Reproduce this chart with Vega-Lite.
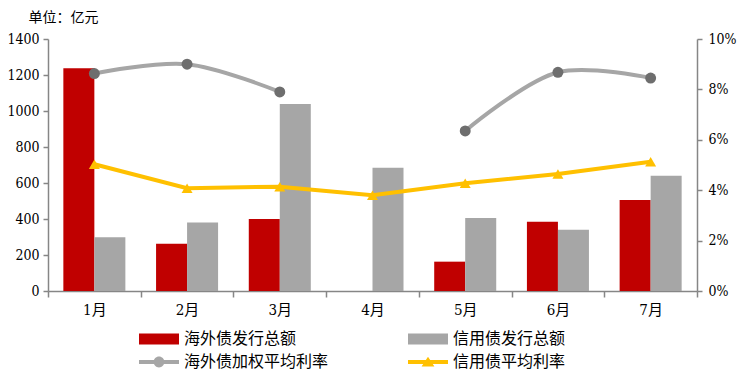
{
  "$schema": "https://vega.github.io/schema/vega-lite/v6.json",
  "width": 649,
  "height": 252,
  "autosize": {"type": "none"},
  "padding": {"left": 48, "top": 39, "right": 47, "bottom": 92},
  "background": "white",
  "config": {
    "view": {"stroke": null},
    "axis": {
      "grid": false,
      "domainColor": "#868686",
      "domainWidth": 1.5,
      "tickColor": "#868686",
      "tickWidth": 1.5,
      "labelColor": "#000000",
      "labelFontSize": 15
    }
  },
  "datasets": {
    "bars": [
      {"month": "1月", "series": "海外债发行总额", "value": 1238},
      {"month": "1月", "series": "信用债发行总额", "value": 298},
      {"month": "2月", "series": "海外债发行总额", "value": 263},
      {"month": "2月", "series": "信用债发行总额", "value": 380},
      {"month": "3月", "series": "海外债发行总额", "value": 400},
      {"month": "3月", "series": "信用债发行总额", "value": 1039},
      {"month": "4月", "series": "海外债发行总额", "value": 0},
      {"month": "4月", "series": "信用债发行总额", "value": 685},
      {"month": "5月", "series": "海外债发行总额", "value": 163},
      {"month": "5月", "series": "信用债发行总额", "value": 405},
      {"month": "6月", "series": "海外债发行总额", "value": 385},
      {"month": "6月", "series": "信用债发行总额", "value": 340},
      {"month": "7月", "series": "海外债发行总额", "value": 505},
      {"month": "7月", "series": "信用债发行总额", "value": 640}
    ],
    "overseas": [
      {"month": "1月", "series": "海外债加权平均利率", "rate": 0.0863},
      {"month": "2月", "series": "海外债加权平均利率", "rate": 0.0900},
      {"month": "3月", "series": "海外债加权平均利率", "rate": 0.0790},
      {"month": "4月", "series": "海外债加权平均利率", "rate": null},
      {"month": "5月", "series": "海外债加权平均利率", "rate": 0.0635},
      {"month": "6月", "series": "海外债加权平均利率", "rate": 0.0868},
      {"month": "7月", "series": "海外债加权平均利率", "rate": 0.0845}
    ],
    "credit": [
      {"month": "1月", "series": "信用债平均利率", "rate": 0.0503},
      {"month": "2月", "series": "信用债平均利率", "rate": 0.0408},
      {"month": "3月", "series": "信用债平均利率", "rate": 0.0414},
      {"month": "4月", "series": "信用债平均利率", "rate": 0.0380},
      {"month": "5月", "series": "信用债平均利率", "rate": 0.0428},
      {"month": "6月", "series": "信用债平均利率", "rate": 0.0464},
      {"month": "7月", "series": "信用债平均利率", "rate": 0.0513}
    ]
  },
  "layer": [
    {
      "data": {"name": "bars"},
      "mark": {"type": "bar"},
      "encoding": {
        "x": {
          "field": "month", "type": "nominal",
          "sort": ["1月", "2月", "3月", "4月", "5月", "6月", "7月"],
          "scale": {"paddingInner": 0, "paddingOuter": 0},
          "axis": {"title": null, "labelAngle": 0, "tickBand": "extent", "tickSize": 6, "labelPadding": 5, "labelFont": "DejaVu Serif Condensed, DejaVu Serif, Noto Sans CJK SC", "labelFontSize": 15}
        },
        "xOffset": {
          "field": "series", "type": "nominal",
          "sort": ["海外债发行总额", "信用债发行总额"],
          "scale": {"paddingInner": 0, "paddingOuter": 0.495}
        },
        "y": {
          "field": "value", "type": "quantitative",
          "scale": {"domain": [0, 1400], "nice": false},
          "axis": {
            "orient": "left",
            "values": [0, 200, 400, 600, 800, 1000, 1200, 1400],
            "format": "d",
            "labelFont": "DejaVu Serif Condensed, DejaVu Serif", "labelFontSize": 14,
            "tickSize": 5, "labelPadding": 4,
            "title": "单位：亿元", "titleAngle": 0, "titleAlign": "left", "titleBaseline": "middle",
            "titleX": -20, "titleY": -22, "titleFont": "Noto Sans CJK SC", "titleFontSize": 14,
            "titleFontWeight": "normal", "titleColor": "#000000"
          }
        },
        "color": {
          "field": "series", "type": "nominal",
          "scale": {
            "domain": ["海外债发行总额", "海外债加权平均利率", "信用债发行总额", "信用债平均利率"],
            "range": ["#C00000", "#A6A6A6", "#A6A6A6", "#FFC000"]
          },
          "legend": {
            "title": null, "orient": "none", "legendX": 91, "legendY": 290,
            "columns": 2, "columnPadding": 79, "rowPadding": 3,
            "symbolSize": 1600, "symbolStrokeWidth": 0, "clipHeight": 20,
            "labelFont": "Noto Sans CJK SC", "labelFontSize": 16, "labelColor": "#000000",
            "labelOffset": 5, "padding": 0,
            "encode": {
              "symbols": {
                "update": {
                  "shape": {"signal": "datum.value === '海外债加权平均利率' ? 'M-1,-0.1L1,-0.1L1,0.1L-1,0.1Z M0.27,0A0.27,0.27 0 1,1 -0.27,0A0.27,0.27 0 1,1 0.27,0Z' : datum.value === '信用债平均利率' ? 'M-1,-0.1L1,-0.1L1,0.1L-1,0.1Z M-0.32,0.22L0,-0.26L0.32,0.22Z' : 'M-1,-0.27L1,-0.27L1,0.27L-1,0.27Z'"},
                  "fill": {"signal": "datum.value === '海外债发行总额' ? '#C00000' : datum.value === '信用债发行总额' ? '#A6A6A6' : datum.value === '海外债加权平均利率' ? '#8C8C8C' : '#FFC000'"},
                  "stroke": {"value": "transparent"},
                  "strokeWidth": {"value": 0},
                  "opacity": {"value": 1},
                  "fillOpacity": {"value": 1}
                }
              }
            }
          }
        }
      }
    },
    {
      "layer": [
        {
          "data": {"name": "overseas"},
          "mark": {"type": "line", "interpolate": "catmull-rom", "strokeWidth": 4, "invalid": "break-paths-show-domains"},
          "encoding": {
            "x": {"field": "month", "type": "nominal", "sort": ["1月", "2月", "3月", "4月", "5月", "6月", "7月"]},
            "y": {
              "field": "rate", "type": "quantitative",
              "scale": {"domain": [0, 0.1], "nice": false},
              "axis": {"orient": "right", "values": [0, 0.02, 0.04, 0.06, 0.08, 0.1], "format": ".0%", "labelFont": "DejaVu Serif Condensed, DejaVu Serif", "labelFontSize": 14, "tickSize": 5, "labelPadding": 6, "title": null}
            },
            "color": {"field": "series", "type": "nominal"}
          }
        },
        {
          "data": {"name": "overseas"},
          "transform": [{"filter": "datum.rate != null"}],
          "mark": {"type": "point", "filled": true, "size": 120, "opacity": 1, "color": "#6E6E6E"},
          "encoding": {
            "x": {"field": "month", "type": "nominal", "sort": ["1月", "2月", "3月", "4月", "5月", "6月", "7月"]},
            "y": {"field": "rate", "type": "quantitative"}
          }
        },
        {
          "data": {"name": "credit"},
          "mark": {"type": "line", "strokeWidth": 4, "point": {"shape": "triangle-up", "size": 120, "filled": true, "opacity": 1}},
          "encoding": {
            "x": {"field": "month", "type": "nominal", "sort": ["1月", "2月", "3月", "4月", "5月", "6月", "7月"]},
            "y": {"field": "rate", "type": "quantitative"},
            "color": {"field": "series", "type": "nominal"}
          }
        }
      ]
    }
  ],
  "resolve": {"scale": {"y": "independent"}}
}
